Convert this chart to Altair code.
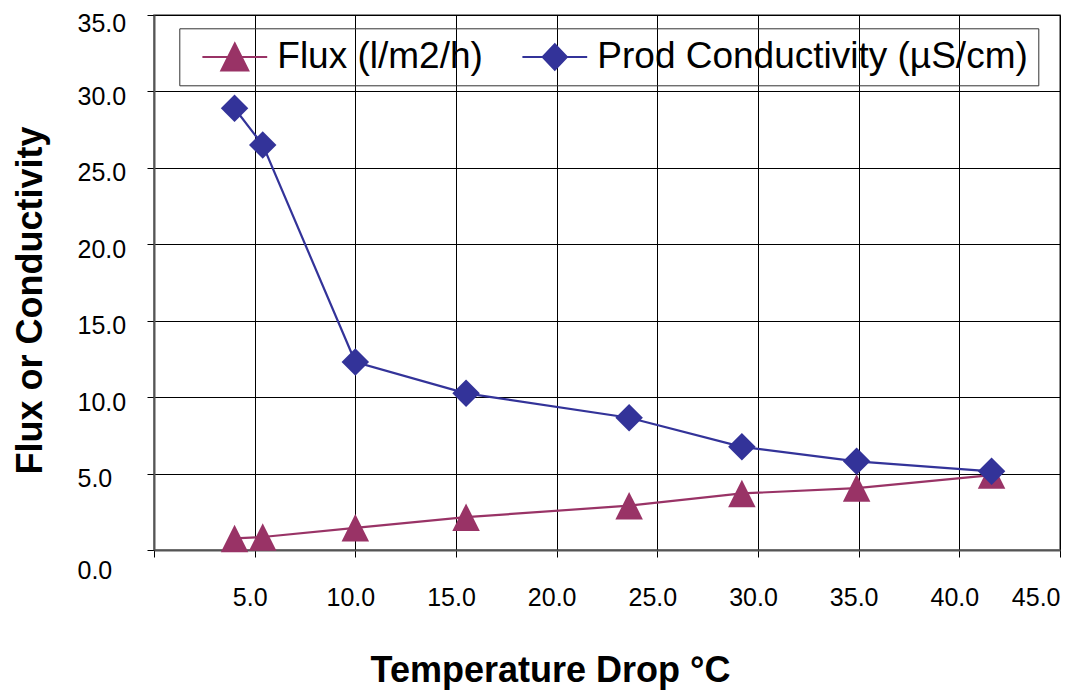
import altair as alt
import pandas as pd

# ---- data ----
temp_drop = [4.0, 5.4, 10.0, 15.5, 23.6, 29.2, 34.9, 41.6]
flux = [0.76, 0.85, 1.45, 2.15, 2.9, 3.7, 4.05, 4.9]
conductivity = [28.9, 26.5, 12.3, 10.25, 8.65, 6.75, 5.8, 5.15]
series_names = ["Flux (l/m2/h)", "Prod Conductivity (µS/cm)"]
series_colors = ["#993366", "#333399"]
x_ticks = [0, 5, 10, 15, 20, 25, 30, 35, 40, 45]
y_ticks = [0, 5, 10, 15, 20, 25, 30, 35]

df = pd.DataFrame({
    "temp": temp_drop + temp_drop,
    "value": flux + conductivity,
    "series": [series_names[0]] * len(flux) + [series_names[1]] * len(conductivity),
})
legend_df = pd.DataFrame({"series": series_names})

FONT = "Liberation Sans, Arial, sans-serif"
TRI = "M0,-1L1,1L-1,1Z"
LEG_TRI = "M-2.4,0L2.4,0M0,-1L1,1L-1,1Z"
LEG_DIA = "M-2.4,0L2.4,0M0,-0.95L0.9,0L0,0.95L-0.9,0Z"

x_enc = alt.X(
    "temp:Q",
    title="Temperature Drop °C",
    scale=alt.Scale(domain=[0, 45], nice=False, zero=False),
    axis=alt.Axis(
        values=x_ticks,
        grid=True, gridColor="#000", gridWidth=1,
        domainColor="#555", domainWidth=2,
        tickColor="#000", tickSize=7, tickWidth=1,
        labelFont=FONT, labelFontSize=25, labelColor="#000",
        labelPadding=28, labelFlush=True, labelOverlap=False,
        labelExpr="datum.value == 0 ? '' : format(datum.value, '.1f')",
        labelOffset={"condition": {"test": "datum.value == 45", "value": 0}, "value": -5},
        titleFont=FONT, titleFontSize=36, titleFontWeight="bold", titleColor="#000",
        titleX=396, titleY=131, titleAlign="center", titleBaseline="alphabetic",
    ),
)
y_enc = alt.Y(
    "value:Q",
    title="Flux or Conductivity",
    scale=alt.Scale(domain=[0, 35], nice=False),
    axis=alt.Axis(
        values=y_ticks, format=".1f",
        grid=True, gridColor="#000", gridWidth=1,
        domainColor="#555", domainWidth=2,
        tickColor="#000", tickSize=7, tickWidth=1,
        labelFont=FONT, labelFontSize=25, labelColor="#000",
        labelAlign="left", labelPadding=70, labelOverlap=False,
        labelOffset={
            "condition": [
                {"test": "datum.value == 0", "value": 20.5},
                {"test": "datum.value == 35", "value": 8},
            ],
            "value": 5,
        },
        titleFont=FONT, titleFontSize=36, titleFontWeight="bold", titleColor="#000",
        titleX=-113, titleY=285, titleAlign="center", titleBaseline="alphabetic",
    ),
)

base = alt.Chart(df)

flux_line = base.transform_filter(alt.datum.series == series_names[0]).mark_line(
    color=series_colors[0], strokeWidth=2.2
).encode(x=x_enc, y=y_enc)
flux_pts = base.transform_filter(alt.datum.series == series_names[0]).mark_point(
    filled=True, shape=TRI, size=756, color=series_colors[0], opacity=1
).encode(x=x_enc, y=y_enc)
cond_line = base.transform_filter(alt.datum.series == series_names[1]).mark_line(
    color=series_colors[1], strokeWidth=2.2
).encode(x=x_enc, y=y_enc)
cond_pts = base.transform_filter(alt.datum.series == series_names[1]).mark_point(
    filled=True, shape="diamond", size=756, color=series_colors[1], opacity=1
).encode(x=x_enc, y=y_enc)

leg = alt.Legend(
    title=None, orient="none", legendX=25.3, legendY=13.3,
    direction="horizontal", columns=2, padding=10,
    strokeColor="#333",
    symbolSize=729, symbolStrokeWidth=2, symbolOffset=27, symbolOpacity=1,
    labelOffset=24, columnPadding=26,
    labelFont=FONT, labelFontSize=37, labelColor="#000", labelLimit=1000,
    labelExpr="datum.label == '" + series_names[1] + "' ? datum.label + ' ' : datum.label",
)
legend_layer = alt.Chart(legend_df).transform_filter("false").mark_point(
    filled=True, opacity=1
).encode(
    fill=alt.Fill("series:N", scale=alt.Scale(domain=series_names, range=series_colors), legend=leg),
    stroke=alt.Stroke("series:N", scale=alt.Scale(domain=series_names, range=series_colors), legend=leg),
    shape=alt.Shape("series:N", scale=alt.Scale(domain=series_names, range=[LEG_TRI, LEG_DIA]), legend=leg),
)

chart = alt.layer(flux_line, flux_pts, cond_line, cond_pts, legend_layer).properties(
    width=906, height=535,
    autosize=alt.AutoSizeParams(type="none"),
    padding={"left": 146, "top": 7, "right": 1, "bottom": 140},
).configure_view(stroke="#666", strokeWidth=1.5)

chart.save("out.html", embed_options={"renderer": "svg", "actions": False})
